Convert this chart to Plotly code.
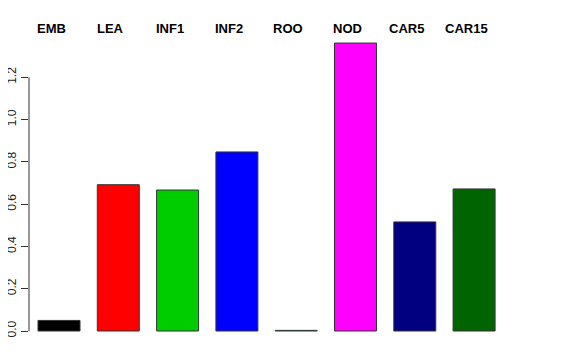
import plotly.graph_objects as go

categories = ["EMB", "LEA", "INF1", "INF2", "ROO", "NOD", "CAR5", "CAR15"]
values = [0.05, 0.692, 0.667, 0.847, 0.003, 1.362, 0.516, 0.672]
colors = ["#000000", "#FF0000", "#00CD00", "#0000FF", "#00FFFF", "#FF00FF", "#000080", "#006400"]
tick_vals = [0.0, 0.2, 0.4, 0.6, 0.8, 1.0, 1.2]
tick_text = ["0.0", "0.2", "0.4", "0.6", "0.8", "1.0", "1.2"]

xs = list(range(len(categories)))

fig = go.Figure()
fig.add_trace(go.Bar(
    x=xs, y=values, width=0.708,
    marker=dict(color=colors, line=dict(color="#333333", width=1)),
    hoverinfo="skip",
))

for i, c in zip(xs, categories):
    fig.add_annotation(x=i, y=1, xref="x", yref="paper", text="<b>" + c + "</b>",
                       showarrow=False, xshift=-8, yshift=0, yanchor="middle",
                       font=dict(family="Liberation Sans, Arial, sans-serif", size=13, color="black"))

# y axis line spanning only the tick range (R style)
fig.add_shape(type="line", xref="paper", yref="y", x0=0, x1=0, y0=0, y1=1.2,
              line=dict(color="#333333", width=1))

fig.update_layout(
    width=568, height=352,
    margin=dict(l=21, r=47, t=20, b=20, autoexpand=False),
    plot_bgcolor="white", paper_bgcolor="white",
    showlegend=False,
    font=dict(family="Liberation Sans, Arial, sans-serif", color="#222222"),
    xaxis=dict(range=[-0.506, 7.926], showticklabels=False, showgrid=False,
               zeroline=False, showline=False, ticks="", automargin=False),
    yaxis=dict(range=[(331 - 340) / 211.4, (331 - 28) / 211.4], tickvals=tick_vals, ticktext=tick_text,
               tickangle=-90, ticks="outside", ticklen=7, tickcolor="#333333",
               showgrid=False, zeroline=False, showline=False, automargin=False,
               tickfont=dict(size=12, color="#222222")),
)

fig.write_html("out.html")
